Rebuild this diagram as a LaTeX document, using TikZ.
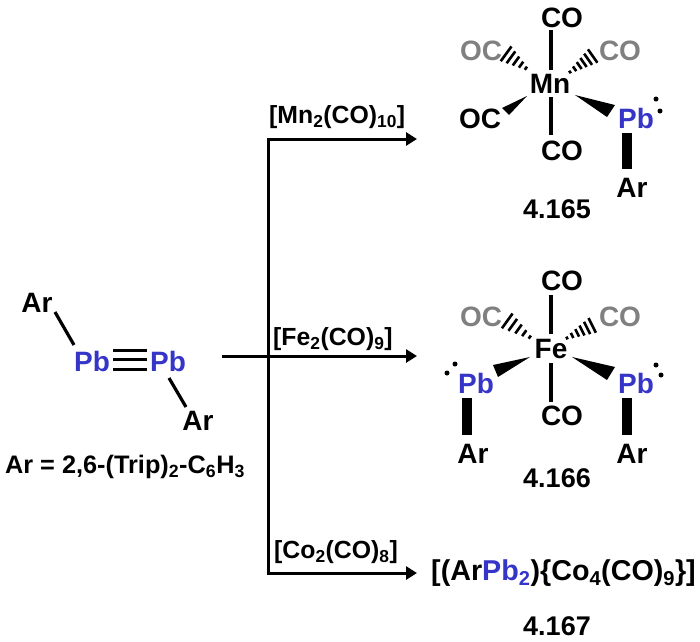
\documentclass[tikz,border=0pt]{standalone}
\usepackage{fontspec}
\setmainfont{Liberation Sans}
\usetikzlibrary{arrows.meta,calc}
\definecolor{leadblue}{HTML}{3535C8}
\definecolor{ligray}{HTML}{808080}
\tikzset{
  atom/.style={inner sep=0pt,text height=20pt,text depth=0pt,font=\fontsize{28}{30}\selectfont\bfseries},
  lead/.style={atom,text=leadblue},
  backco/.style={atom,text=ligray},
  cpdlabel/.style={inner sep=0pt,font=\fontsize{27}{30}\selectfont\bfseries},
  reagent/.style={inner sep=0pt,anchor=west,font=\fontsize{24.8}{28}\selectfont\bfseries},
  bond/.style={line width=3.2pt},
  thickbond/.style={line width=10pt},
  triple/.style={line width=3pt},
  wedge/.style={fill=black},
  hash/.style={line width=2.6pt},
  rxn/.style={line width=3pt},
  rxnarrow/.style={rxn,-{Triangle[length=11pt,width=13pt]}},
  dot/.style={circle,fill=black,inner sep=0pt,minimum size=5pt}
}
\newcommand{\hashbond}[3]{%
  \foreach \tt in {#3}{%
    \pgfmathsetmacro{\ww}{1.5+\tt*8}%
    \draw[hash] ($(#1)!\tt!(#2)!\ww pt!90:(#2)$) -- ($(#1)!\tt!(#2)!\ww pt!-90:(#2)$);
  }%
}
\begin{document}
\begin{tikzpicture}[x=1pt,y=-1pt]
\useasboundingbox (0,0) rectangle (700,641);
% --- starting material
\node[atom] (ar1) at (37,302) {Ar};
\node[lead] (pb1) at (92,361) {Pb};
\node[lead] (pb2) at (168,361) {Pb};
\node[atom] (ar2) at (198,420) {Ar};
\node[inner sep=0pt,font=\fontsize{25.3}{28}\selectfont\bfseries] (def) at (125,467) {Ar = 2,6-(Trip)\textsubscript{2}-C\textsubscript{6}H\textsubscript{3}};
\draw[bond] ([shift={(18,10)}]ar1.center) -- ([shift={(-18,-16)}]pb1.center);
\draw[bond] ([shift={(1,17)}]pb2.center) -- ([shift={(-12,-13)}]ar2.center);
\draw[triple] ([shift={(21,-11)}]pb1.center) -- ([shift={(-21,-11)}]pb2.center);
\draw[triple] ([shift={(21,-2)}]pb1.center) -- ([shift={(-21,-2)}]pb2.center);
\draw[triple] ([shift={(21,8)}]pb1.center) -- ([shift={(-21,8)}]pb2.center);
% --- reaction scheme
\coordinate (start) at (222,356);
\coordinate (branch) at (268,356);
\coordinate (upper) at (268,139);
\coordinate (lower) at (268,573);
\node[reagent] (rmn) at (269,117) {[Mn\textsubscript{2}(CO)\textsubscript{10}]};
\node[reagent] (rfe) at (273,339) {[Fe\textsubscript{2}(CO)\textsubscript{9}]};
\node[reagent] (rco) at (274,552) {[Co\textsubscript{2}(CO)\textsubscript{8}]};
\coordinate (endmn) at (417,139);
\coordinate (endfe) at (417,356);
\coordinate (endco) at (417,573);
\draw[rxn] (upper) -- (lower);
\draw[rxnarrow] ([xshift=-1.5pt]upper) -- (endmn);
\draw[rxnarrow] (start) -- (endfe);
\draw[rxnarrow] ([xshift=-1.5pt]lower) -- (endco);
% --- 4.165
\node[atom] (mn) at (550,83) {Mn};
\node[atom] (mntop) at (562,17) {CO};
\node[atom] (mnbot) at (562,150) {CO};
\node[backco] (mnbl) at (481,50) {OC};
\node[backco] (mnbr) at (620,50) {CO};
\node[atom] (mnfl) at (480,118) {OC};
\node[lead] (mnpb) at (636,118) {Pb};
\node[atom] (mnar) at (632,187) {Ar};
\node[cpdlabel] (l165) at (557,209) {4.165};
\node[dot] (mnd1) at (656,99) {};
\node[dot] (mnd2) at (660,111) {};
\draw[bond] ([shift={(1,-13)}]mn.center) -- ([shift={(-11,13)}]mntop.center);
\draw[bond] ([shift={(1,14)}]mn.center) -- ([shift={(-11,-15)}]mnbot.center);
\draw[thickbond] ([shift={(-9,15)}]mnpb.center) -- ([shift={(-5,-18)}]mnar.center);
\fill[wedge] ([shift={(-23,13)}]mn.center) -- ([shift={(22,-10)}]mnfl.center) -- ([shift={(29,-3)}]mnfl.center) -- cycle;
\fill[wedge] ([shift={(25,12)}]mn.center) -- ([shift={(-21,-13)}]mnpb.center) -- ([shift={(-29,-1)}]mnpb.center) -- cycle;
\hashbond{$(mn.center)+(-23,-14)$}{$(mn.center)+(-45,-30)$}{0.05,0.27,0.5,0.73,0.95}
\hashbond{$(mn.center)+(20,-11)$}{$(mn.center)+(47,-30)$}{0,0.17,0.34,0.5,0.67,0.84,1}
% --- 4.166
\node[atom] (fe) at (551,348) {Fe};
\node[atom] (fetop) at (562,280) {CO};
\node[atom] (febot) at (562,415) {CO};
\node[backco] (febl) at (481,316) {OC};
\node[backco] (febr) at (620,316) {CO};
\node[lead] (fepbl) at (476,383) {Pb};
\node[lead] (fepbr) at (636,383) {Pb};
\node[atom] (fearl) at (473,453) {Ar};
\node[atom] (fearr) at (632,453) {Ar};
\node[cpdlabel] (l166) at (557,478) {4.166};
\node[dot] (fed1) at (455,364) {};
\node[dot] (fed2) at (447,373) {};
\node[dot] (fed3) at (656,365) {};
\node[dot] (fed4) at (661,375) {};
\draw[bond] ([shift={(0,-14)}]fe.center) -- ([shift={(-11,15)}]fetop.center);
\draw[bond] ([shift={(0,15)}]fe.center) -- ([shift={(-11,-13)}]febot.center);
\draw[thickbond] ([shift={(-9,15)}]fepbl.center) -- ([shift={(-6,-18)}]fearl.center);
\draw[thickbond] ([shift={(-9,15)}]fepbr.center) -- ([shift={(-5,-18)}]fearr.center);
\fill[wedge] ([shift={(-21,9)}]fe.center) -- ([shift={(17,-18)}]fepbl.center) -- ([shift={(22,-6)}]fepbl.center) -- cycle;
\fill[wedge] ([shift={(21,9)}]fe.center) -- ([shift={(-21,-16)}]fepbr.center) -- ([shift={(-29,-3)}]fepbr.center) -- cycle;
\hashbond{$(fe.center)+(-20,-10)$}{$(fe.center)+(-45,-28)$}{0.05,0.27,0.5,0.73,0.95}
\hashbond{$(fe.center)+(16,-10)$}{$(fe.center)+(46,-25)$}{0,0.17,0.34,0.5,0.67,0.84,1}
% --- 4.167
\node[inner sep=0pt,anchor=west,font=\fontsize{28.7}{32}\selectfont\bfseries] (co) at (431,573) {[(Ar\textcolor{leadblue}{Pb\textsubscript{2}})\{Co\textsubscript{4}(CO)\textsubscript{9}\}]};
\node[cpdlabel] (l167) at (557,626) {4.167};
\end{tikzpicture}
\end{document}
